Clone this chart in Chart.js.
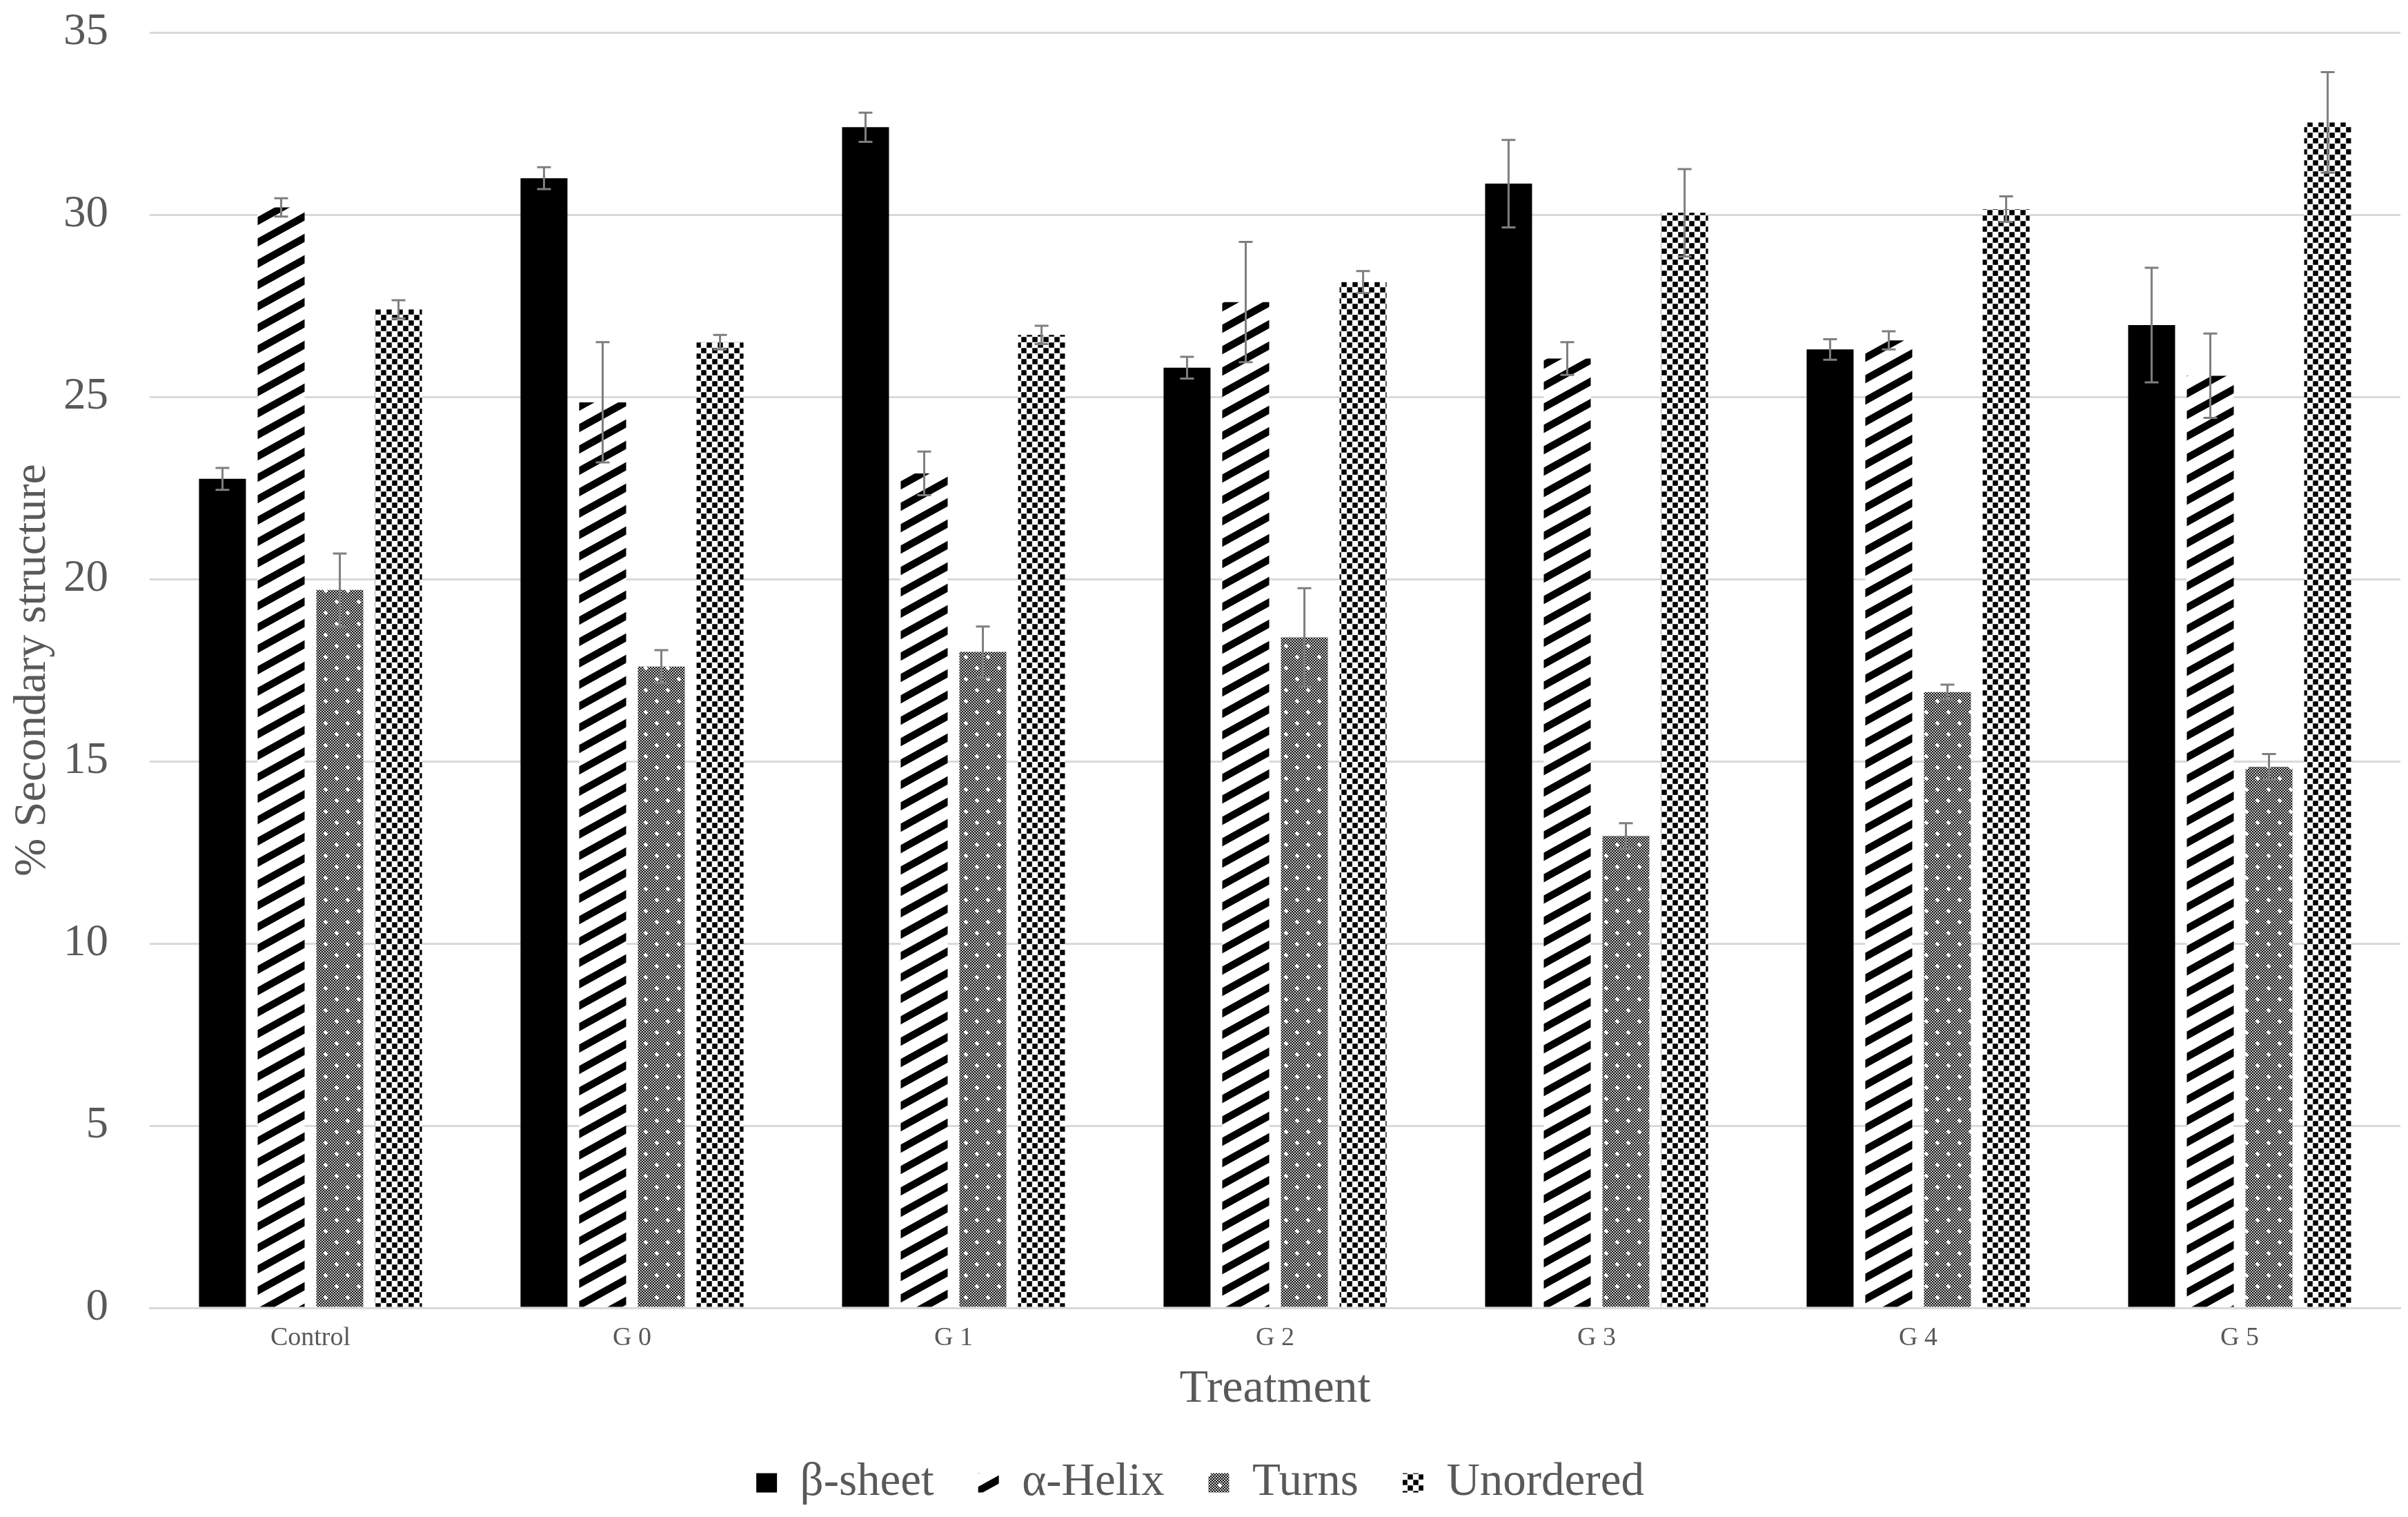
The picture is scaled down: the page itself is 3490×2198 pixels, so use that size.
<!DOCTYPE html>
<html>
<head>
<meta charset="utf-8">
<title>Secondary structure by treatment</title>
<script src="https://cdn.jsdelivr.net/npm/chart.js@4.4.1/dist/chart.umd.min.js"></script>
<style>
  html, body { margin: 0; padding: 0; background: #fff; }
  #wrap { width: 3490px; height: 2198px; }
</style>
</head>
<body>
<div id="wrap"><canvas id="chart" width="3490" height="2198"></canvas></div>
<script>
// values (mean and +/- error)
const categories = ['Control', 'G 0', 'G 1', 'G 2', 'G 3', 'G 4', 'G 5'];
const seriesNames = ['β-sheet', 'α-Helix', 'Turns', 'Unordered'];

const betaSheet   = [22.75, 31.0, 32.4, 25.8, 30.85, 26.3, 26.97];
const alphaHelix  = [30.2, 24.85, 22.9, 27.6, 26.05, 26.55, 25.58];
const turns       = [19.7, 17.6, 18.0, 18.4, 12.95, 16.9, 14.85];
const unordered   = [27.4, 26.5, 26.7, 28.15, 30.05, 30.15, 32.53];

const betaErr     = [0.3, 0.3, 0.4, 0.3, 1.2, 0.28, 1.57];
const alphaErr    = [0.25, 1.65, 0.6, 1.65, 0.45, 0.25, 1.16];
const turnsErr    = [1.0, 0.45, 0.7, 1.35, 0.35, 0.2, 0.35];
const unorderedErr = [0.25, 0.2, 0.25, 0.3, 1.2, 0.35, 1.38];

const yMin = 0, yMax = 35, yStep = 5;

const FONT = '"Liberation Serif", "Times New Roman", serif';
const TEXT = '#595959';
const GRID = '#d9d9d9';

function tile(w, h, draw) {
  const c = document.createElement('canvas');
  c.width = w; c.height = h;
  const g = c.getContext('2d');
  draw(g, w, h);
  return g.createPattern(c, 'repeat');
}

// diagonal "/" stripes
const stripes = tile(56, 31, (g, w, h) => {
  g.fillStyle = '#fff';
  g.fillRect(0, 0, w, h);
  g.strokeStyle = '#000';
  g.lineWidth = 12 * w / Math.sqrt(w * w + h * h);
  for (const dy of [-h, 0, h]) {
    g.beginPath();
    g.moveTo(-w, 2 * h + dy);
    g.lineTo(2 * w, -h + dy);
    g.stroke();
  }
});

// fine grey checker with sparse white dots
const fineDots = tile(32, 32, (g, w, h) => {
  g.fillStyle = '#c8c8c8';
  g.fillRect(0, 0, w, h);
  g.fillStyle = '#111';
  for (let y = 0; y < h; y += 2) {
    for (let x = (y / 2) % 2 === 0 ? 0 : 2; x < w; x += 4) g.fillRect(x, y, 2, 2);
  }
  g.fillStyle = '#fff';
  for (const [cx, cy] of [[8, 8], [24, 24]]) {
    g.fillRect(cx - 2, cy - 2, 4, 4);
    g.fillRect(cx - 3, cy - 1, 6, 2);
    g.fillRect(cx - 1, cy - 3, 2, 6);
  }
});

// coarse checker
const checker = tile(16, 16, (g, w, h) => {
  g.fillStyle = '#fff';
  g.fillRect(0, 0, w, h);
  g.fillStyle = '#000';
  g.fillRect(0.25, 0.25, 7.5, 7.5);
  g.fillRect(8.25, 8.25, 7.5, 7.5);
});

const fills = ['#000', stripes, fineDots, checker];
const values = [betaSheet, alphaHelix, turns, unordered];
const errors = [betaErr, alphaErr, turnsErr, unorderedErr];

const errorBars = {
  id: 'errorBars',
  afterDatasetsDraw(chart) {
    const ctx = chart.ctx;
    const y = chart.scales.y;
    ctx.save();
    ctx.strokeStyle = '#7f7f7f';
    ctx.lineWidth = 3;
    chart.data.datasets.forEach((ds, i) => {
      const meta = chart.getDatasetMeta(i);
      meta.data.forEach((bar, j) => {
        const v = ds.data[j], e = ds.errors[j];
        const top = y.getPixelForValue(v + e);
        const bot = y.getPixelForValue(v - e);
        const cap = 10;
        ctx.beginPath();
        ctx.moveTo(bar.x, top); ctx.lineTo(bar.x, bot);
        ctx.moveTo(bar.x - cap, top); ctx.lineTo(bar.x + cap, top);
        ctx.moveTo(bar.x - cap, bot); ctx.lineTo(bar.x + cap, bot);
        ctx.stroke();
      });
    });
    ctx.restore();
  }
};

new Chart(document.getElementById('chart'), {
  type: 'bar',
  data: {
    labels: categories,
    datasets: seriesNames.map((name, i) => ({
      label: name,
      data: values[i],
      errors: errors[i],
      backgroundColor: fills[i],
      borderWidth: 0,
      categoryPercentage: 0.73,
      barPercentage: 0.8
    }))
  },
  options: {
    responsive: false,
    animation: false,
    layout: { padding: { top: 0, right: 11, bottom: 6, left: 0 } },
    plugins: {
      tooltip: { enabled: false },
      legend: {
        position: 'bottom',
        labels: {
          color: TEXT,
          font: { family: FONT, size: 67 },
          boxWidth: 30,
          boxHeight: 28,
          padding: 64
        }
      }
    },
    scales: {
      x: {
        grid: { display: false },
        border: { display: true, color: GRID, width: 3 },
        ticks: { color: TEXT, font: { family: FONT, size: 38, lineHeight: 1 }, padding: 17 },
        title: {
          display: true, text: 'Treatment', color: TEXT,
          font: { family: FONT, size: 68, lineHeight: 1 }, padding: { top: 4, bottom: 4 }
        }
      },
      y: {
        min: yMin,
        max: yMax,
        grid: { color: GRID, lineWidth: 3, drawTicks: false },
        border: { display: false },
        ticks: { stepSize: yStep, color: TEXT, font: { family: FONT, size: 65 }, padding: 60 },
        title: {
          display: true, text: '% Secondary structure', color: TEXT,
          font: { family: FONT, size: 66 }, padding: { top: 8, bottom: 5 }
        },
        afterFit(scale) {
          // keep the axis block and its top overflow the same size as the original
          scale.width = 217;
          scale.paddingTop = 47;
          scale.paddingBottom = 0;
        }
      }
    }
  },
  plugins: [errorBars]
});
</script>
</body>
</html>
